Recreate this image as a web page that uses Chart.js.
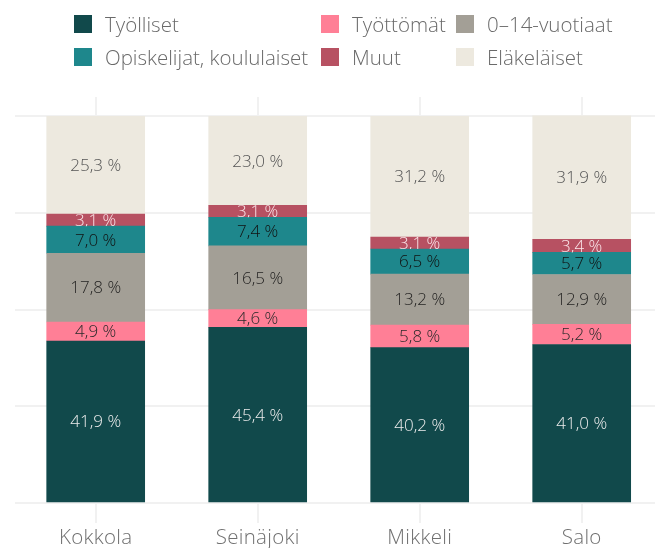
<!DOCTYPE html>
<html>
<head>
<meta charset="utf-8">
<script src="https://cdn.jsdelivr.net/npm/chart.js@4.4.1/dist/chart.umd.min.js"></script>
<style>
  html, body { margin:0; padding:0; background:#fff; }
  body { width:655px; height:548px; overflow:hidden; position:relative; font-family: "Open Sans", Lato, sans-serif; }
  #wrap { position:absolute; left:0; top:0; width:670px; height:548px; }
  #legend { position:absolute; left:0; top:0; width:655px; height:90px; z-index:2; }
  .sw { width:18px; height:18px; position:absolute; }
  .tx { position:absolute; font-size:20.5px; color:#6a6a6a; font-weight:300; line-height:18px; white-space:nowrap; }
</style>
</head>
<body>
<div id="legend"></div>
<div id="wrap"><canvas id="c"></canvas></div>
<script>
// ---- data ----
const categories = ['Kokkola', 'Seinäjoki', 'Mikkeli', 'Salo'];
const seriesNames = ['Työlliset', 'Työttömät', '0–14-vuotiaat', 'Opiskelijat, koululaiset', 'Muut', 'Eläkeläiset'];
const tyolliset   = [41.9, 45.4, 40.2, 41.0];
const tyottomat   = [4.9, 4.6, 5.8, 5.2];
const lapset      = [17.8, 16.5, 13.2, 12.9];
const opiskelijat = [7.0, 7.4, 6.5, 5.7];
const muut        = [3.1, 3.1, 3.1, 3.4];
const elakelaiset = [25.3, 23.0, 31.2, 31.9];
const yTicks      = [0, 25, 50, 75, 100];

// ---- styles ----
const barColors   = ['#11494b', '#ff7f96', '#a39f96', '#1e878c', '#b75162', '#ede9df'];
const labelColors = ['#ececec', '#2a2a2a', '#252423', '#111111', '#fbe6ea', '#555555'];
const legendPos = [[74,15],[321,15],[456,15],[74,48],[321,48],[456,48]];

const seriesValues = [tyolliset, tyottomat, lapset, opiskelijat, muut, elakelaiset];

// HTML legend
const lg = document.getElementById('legend');
seriesNames.forEach((n, i) => {
  const sw = document.createElement('div');
  sw.className = 'sw';
  sw.style.left = legendPos[i][0] + 'px';
  sw.style.top = legendPos[i][1] + 'px';
  sw.style.background = barColors[i];
  lg.appendChild(sw);
  const tx = document.createElement('div');
  tx.className = 'tx';
  tx.textContent = n;
  tx.style.left = (legendPos[i][0] + 31) + 'px';
  tx.style.top = (legendPos[i][1]) + 'px';
  lg.appendChild(tx);
});

const fmt = v => v.toFixed(1).replace('.', ',') + ' %';

const spacing = {
  id: 'spacing',
  beforeDraw(chart) { chart.ctx.letterSpacing = '0.3px'; }
};

const segLabels = {
  id: 'segLabels',
  afterDatasetsDraw(chart) {
    const ctx = chart.ctx;
    chart.data.datasets.forEach((ds, i) => {
      const meta = chart.getDatasetMeta(i);
      meta.data.forEach((bar, j) => {
        const p = bar.getProps(['x', 'y', 'base', 'width'], true);
        const top = Math.min(p.y, p.base), h = Math.abs(p.base - p.y);
        ctx.save();
        ctx.beginPath();
        ctx.rect(p.x - p.width / 2, top, p.width, h);
        ctx.clip();
        ctx.letterSpacing = '0px';
        ctx.font = '300 17px "Open Sans"';
        ctx.fillStyle = labelColors[i];
        ctx.textAlign = 'center';
        ctx.textBaseline = 'middle';
        ctx.fillText(fmt(ds.data[j]), p.x, top + h / 2 + 1);
        ctx.restore();
      });
    });
  }
};

new Chart(document.getElementById('c'), {
  type: 'bar',
  data: {
    labels: categories,
    datasets: seriesNames.map((n, i) => ({
      label: n,
      data: seriesValues[i],
      backgroundColor: barColors[i],
      borderWidth: 0,
      barThickness: 98
    }))
  },
  options: {
    responsive: true,
    maintainAspectRatio: false,
    animation: false,
    layout: { padding: { left: 14.7, right: 7.3, top: 97, bottom: 0 } },
    plugins: { legend: { display: false }, tooltip: { enabled: false } },
    scales: {
      x: {
        stacked: true,
        grid: { offset: false, color: '#f1f1f1', lineWidth: 2, tickLength: 20, drawTicks: true },
        border: { display: false },
        ticks: { color: '#707070', font: { family: '"Open Sans"', size: 20.5, weight: '300' }, padding: 3, maxRotation: 0 },
        afterFit: s => { s.height = 45; }
      },
      y: {
        stacked: true,
        min: 0,
        max: 105,
        afterBuildTicks: s => { s.ticks = yTicks.map(v => ({ value: v })); },
        ticks: { display: false },
        grid: { color: '#f1f1f1', lineWidth: 2, drawTicks: false },
        border: { display: false },
        afterFit: s => { s.width = 0; }
      }
    }
  },
  plugins: [spacing, segLabels]
});
</script>
</body>
</html>
